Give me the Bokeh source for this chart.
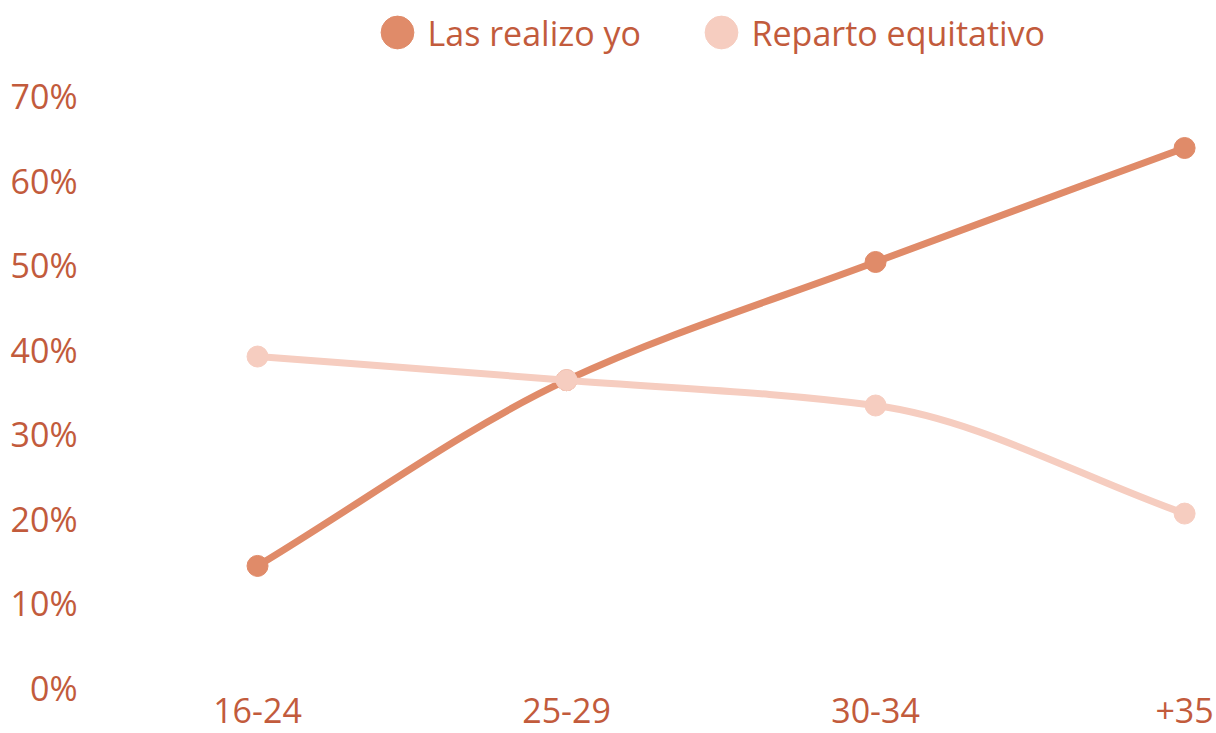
from bokeh.plotting import figure
from bokeh.models import Legend, LegendItem, FixedTicker, Range1d, Label
from bokeh.embed import file_html
from bokeh.resources import INLINE

categories = ["16-24", "25-29", "30-34", "+35"]
las_realizo_yo = [14.4, 36.4, 50.4, 63.9]
reparto_equitativo = [39.2, 36.4, 33.4, 20.6]
y_ticks = [0, 10, 20, 30, 40, 50, 60, 70]
y_labels = ["0%", "10%", "20%", "30%", "40%", "50%", "60%", "70%"]
series_names = ["Las realizo yo", "Reparto equitativo"]

DARK = "#e08b69"
LIGHT = "#f6cdc0"
TEXT = "#c25b3c"
FONT = "Open Sans"
FS = "34px"

xs = list(range(len(categories)))


def monotone_bezier(x, y):
    n = len(x)
    d = [(y[i + 1] - y[i]) / (x[i + 1] - x[i]) for i in range(n - 1)]
    m = [0.0] * n
    m[0] = d[0]
    m[-1] = d[-1]
    for i in range(1, n - 1):
        if d[i - 1] * d[i] <= 0:
            m[i] = 0.0
        else:
            m[i] = 2.0 / (1.0 / d[i - 1] + 1.0 / d[i])
    seg = dict(x0=[], y0=[], x1=[], y1=[], cx0=[], cy0=[], cx1=[], cy1=[])
    for i in range(n - 1):
        h = x[i + 1] - x[i]
        seg["x0"].append(x[i]); seg["y0"].append(y[i])
        seg["x1"].append(x[i + 1]); seg["y1"].append(y[i + 1])
        seg["cx0"].append(x[i] + h / 3); seg["cy0"].append(y[i] + m[i] * h / 3)
        seg["cx1"].append(x[i + 1] - h / 3); seg["cy1"].append(y[i + 1] - m[i + 1] * h / 3)
    return seg


p = figure(width=1216, height=733, output_backend="svg", toolbar_location=None,
           x_range=Range1d(-0.547, 3.045), y_range=Range1d(0, 81.37),
           min_border_left=88, min_border_right=18, min_border_top=0, min_border_bottom=46)
p.outline_line_color = None
p.grid.visible = False
p.background_fill_color = "white"
p.border_fill_color = "white"

s1 = monotone_bezier(xs, las_realizo_yo)
p.bezier(line_color=DARK, line_width=7, **s1)
r1 = p.scatter(xs, las_realizo_yo, size=21, color=DARK)
s2 = monotone_bezier(xs, reparto_equitativo)
p.bezier(line_color=LIGHT, line_width=7, **s2)
r2 = p.scatter(xs, reparto_equitativo, size=21, color=LIGHT)

for ax in (p.xaxis[0], p.yaxis[0]):
    ax.axis_line_color = None
    ax.major_tick_line_color = None
    ax.minor_tick_line_color = None
    ax.major_tick_out = 0
    ax.major_tick_in = 0
    ax.major_label_text_font = FONT
    ax.major_label_text_font_size = FS
    ax.major_label_text_color = TEXT

p.xaxis.ticker = FixedTicker(ticks=xs)
p.xaxis.major_label_overrides = {i: c for i, c in zip(xs, categories)}
p.xaxis.major_label_standoff = 10
p.yaxis.ticker = FixedTicker(ticks=y_ticks)
p.yaxis.major_label_overrides = {t: l for t, l in zip(y_ticks, y_labels)}
p.yaxis.major_label_standoff = 11

# legend: one marker per series, labels as screen-space text
LEG_VY = 614
for r, lx in ((r1, 268), (r2, 592)):
    lg = Legend(items=[LegendItem(label="", renderers=[r])],
                location=(lx, LEG_VY), glyph_width=82, glyph_height=82,
                label_standoff=0, label_width=0, label_height=0,
                padding=0, margin=0, border_line_color=None, background_fill_alpha=0,
                label_text_font_size="1px")
    p.add_layout(lg, "center")

for name, tx in zip(series_names, (339, 663)):
    p.add_layout(Label(x=tx, y=LEG_VY + 41, x_units="screen", y_units="screen",
                       text=name, text_font=FONT, text_font_size=FS, text_color=TEXT,
                       text_baseline="middle", text_align="left"))

open("out.html", "w").write(file_html(p, INLINE))
